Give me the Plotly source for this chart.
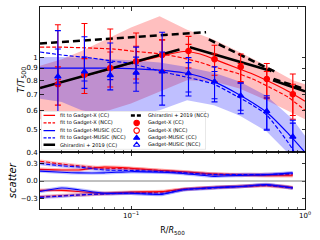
import plotly.graph_objects as go

# ---------------- data ----------------
r_bins = [0.038, 0.054, 0.076, 0.107, 0.151, 0.214, 0.302, 0.427, 0.603, 0.851]
gx_cc = [0.77, 0.845, 0.90, 0.96, 1.02, 1.06, 0.98, 0.91, 0.81, 0.70]
gx_cc_err = [0.14, 0.14, 0.15, 0.15, 0.16, 0.16, 0.14, 0.12, 0.13, 0.15]
gx_ncc = [1.085, 1.11, 1.10, 1.06, 1.03, 0.99, 0.91, 0.86, 0.77, 0.67]
gx_ncc_err = [0.28, 0.27, 0.21, 0.20, 0.15, 0.14, 0.12, 0.08, 0.10, 0.10]
gm_cc = [0.83, 0.87, 0.84, 0.86, 0.87, 0.855, 0.79, 0.69, 0.595, 0.465]
gm_cc_err = [0.25, 0.13, 0.11, 0.14, 0.18, 0.14, 0.12, 0.09, 0.095, 0.08]
gm_ncc = [1.03, 1.005, 0.975, 0.94, 0.95, 0.818, 0.76, 0.68, 0.585, 0.45]
gm_ncc_err = [0.26, 0.21, 0.17, 0.16, 0.32, 0.13, 0.11, 0.10, 0.09, 0.08]

band_r = [0.03, 0.04, 0.052, 0.075, 0.1, 0.146, 0.21, 0.3, 0.42, 0.6, 0.85, 1.0]
gx_band_hi = [0.92, 0.98, 1.06, 1.20, 1.33, 1.48, 1.30, 1.18, 1.05, 0.92, 0.80, 0.77]
gx_band_lo = [0.55, 0.56, 0.58, 0.60, 0.64, 0.72, 0.80, 0.79, 0.74, 0.66, 0.58, 0.55]
gm_band_hi = [1.0, 1.0, 0.99, 0.98, 0.97, 0.95, 0.91, 0.86, 0.79, 0.69, 0.55, 0.47]
gm_band_lo = [0.67, 0.65, 0.60, 0.57, 0.57, 0.60, 0.66, 0.63, 0.57, 0.49, 0.38, 0.33]

fit_r = [0.03, 0.04, 0.06, 0.08, 0.1, 0.15, 0.2, 0.25, 0.3, 0.4, 0.5, 0.6, 0.8, 1.0]
gx_cc_fit = [0.746, 0.787, 0.85, 0.898, 0.94, 1.01, 1.055, 1.03, 0.98, 0.905, 0.85, 0.80, 0.72, 0.655]
gx_ncc_fit = [1.10, 1.10, 1.09, 1.08, 1.06, 1.03, 0.99, 0.95, 0.91, 0.86, 0.81, 0.76, 0.68, 0.60]
gm_cc_fit = [0.90, 0.90, 0.90, 0.90, 0.895, 0.88, 0.86, 0.83, 0.79, 0.71, 0.645, 0.59, 0.48, 0.40]
gm_ncc_fit = [1.05, 1.02, 0.99, 0.96, 0.94, 0.87, 0.83, 0.80, 0.77, 0.69, 0.63, 0.575, 0.44, 0.34]

ghir_cc_r = [0.03, 0.19, None, 0.218, 0.64, None, 0.655, 1.0]
ghir_cc_t = [0.743, 1.075, None, 1.10, 0.875, None, 0.80, 0.72]
ghir_ncc_r = [0.03, 0.27, None, 0.28, 0.68, None, 0.66, 1.0]
ghir_ncc_t = [1.14, 1.27, None, 1.185, 0.865, None, 0.81, 0.735]

sc_r = [0.03, 0.04, 0.05, 0.07, 0.1, 0.15, 0.2, 0.3, 0.45, 0.6, 0.85]
gx_cc_up = [0.20, 0.19, 0.19, 0.24, 0.22, 0.18, 0.16, 0.12, 0.10, 0.09, 0.09]
gx_ncc_up = [0.34, 0.29, 0.26, 0.22, 0.21, 0.18, 0.15, 0.12, 0.11, 0.11, 0.11]
gm_cc_up = [0.17, 0.15, 0.14, 0.14, 0.16, 0.15, 0.13, 0.08, 0.10, 0.11, 0.14]
gm_ncc_up = [0.30, 0.26, 0.24, 0.19, 0.18, 0.16, 0.14, 0.11, 0.11, 0.11, 0.13]
gx_cc_dn = [-0.16, -0.16, -0.18, -0.21, -0.19, -0.18, -0.14, -0.11, -0.09, -0.07, -0.11]
gx_ncc_dn = [-0.27, -0.25, -0.24, -0.22, -0.20, -0.19, -0.14, -0.11, -0.09, -0.08, -0.12]
gm_cc_dn = [-0.18, -0.12, -0.15, -0.21, -0.21, -0.23, -0.15, -0.11, -0.09, -0.06, -0.12]
gm_ncc_dn = [-0.28, -0.26, -0.24, -0.22, -0.21, -0.22, -0.15, -0.12, -0.09, -0.07, -0.12]

y_ticks = [0.4, 0.5, 0.6, 0.7, 0.8, 0.9, 1.0]
y_ticktext = ["0.4", "0.5", "0.6", "0.7", "0.8", "0.9", "1"]
sc_ticks = [-0.3, 0.0, 0.3]
sc_ticktext = ["\u22120.3", "0.0", "0.3"]
x_ticks = [0.1, 1.0]
x_ticktext = ["10<sup>\u22121</sup>", "10<sup>0</sup>"]
x_minor = [0.03, 0.04, 0.05, 0.06, 0.07, 0.08, 0.09, 0.2, 0.3, 0.4, 0.5, 0.6, 0.7, 0.8, 0.9]

RED = "#ff0000"
BLUE = "#0000ff"
FONT = "DejaVu Sans"

fig = go.Figure()

# bands
for lo, hi, col in [(gx_band_lo, gx_band_hi, "rgba(255,0,0,0.25)"),
                    (gm_band_lo, gm_band_hi, "rgba(0,0,255,0.25)")]:
    fig.add_trace(go.Scatter(x=band_r, y=lo, mode="lines", line=dict(width=0),
                             showlegend=False, hoverinfo="skip"))
    fig.add_trace(go.Scatter(x=band_r, y=hi, mode="lines", line=dict(width=0),
                             fill="tonexty", fillcolor=col, showlegend=False, hoverinfo="skip"))

# fits
for yv, col, dash in [(gx_cc_fit, RED, "solid"), (gx_ncc_fit, RED, "4px,2px"),
                      (gm_cc_fit, BLUE, "solid"), (gm_ncc_fit, BLUE, "4px,2px")]:
    fig.add_trace(go.Scatter(x=fit_r, y=yv, mode="lines",
                             line=dict(color=col, width=1.2, dash=dash, shape="spline", smoothing=0.6),
                             showlegend=False))

# Ghirardini
fig.add_trace(go.Scatter(x=ghir_cc_r, y=ghir_cc_t, mode="lines",
                         line=dict(color="black", width=2.6), showlegend=False))
fig.add_trace(go.Scatter(x=ghir_ncc_r, y=ghir_ncc_t, mode="lines",
                         line=dict(color="black", width=2.6, dash="7px,4px"), showlegend=False))

# data points
def pts(yv, err, col, sym, fill):
    return go.Scatter(x=r_bins, y=yv, mode="markers",
                      error_y=dict(type="data", array=err, color=col, thickness=1.1, width=3),
                      marker=dict(symbol=sym, size=5.5, color=col if fill else "rgba(0,0,0,0)",
                                  line=dict(color=col, width=1.1)),
                      showlegend=False)

fig.add_trace(pts(gx_ncc, gx_ncc_err, RED, "circle-open", False))
fig.add_trace(pts(gx_cc, gx_cc_err, RED, "circle", True))
fig.add_trace(pts(gm_ncc, gm_ncc_err, BLUE, "triangle-up-open", False))
fig.add_trace(pts(gm_cc, gm_cc_err, BLUE, "triangle-up", True))

# bottom panel: scatter
for yv, col, dash in [(gx_cc_up, RED, "solid"), (gx_ncc_up, RED, "4px,2px"),
                      (gm_cc_up, BLUE, "solid"), (gm_ncc_up, BLUE, "4px,2px"),
                      (gx_cc_dn, RED, "solid"), (gx_ncc_dn, RED, "4px,2px"),
                      (gm_cc_dn, BLUE, "solid"), (gm_ncc_dn, BLUE, "4px,2px")]:
    halo = "rgba(255,0,0,0.25)" if col == RED else "rgba(0,0,255,0.25)"
    fig.add_trace(go.Scatter(x=sc_r, y=yv, mode="lines", xaxis="x2", yaxis="y2",
                             line=dict(color=halo, width=3.5, shape="spline", smoothing=0.6),
                             showlegend=False, hoverinfo="skip"))
    fig.add_trace(go.Scatter(x=sc_r, y=yv, mode="lines", xaxis="x2", yaxis="y2",
                             line=dict(color=col, width=1.1, dash=dash, shape="spline", smoothing=0.6),
                             showlegend=False))

# ---------------- legend (compact, drawn in its own small frame) ----------------
leg_rows = [0.885, 0.69, 0.49, 0.30, 0.12]
col1 = [("fit to Gadget-X (CC)", RED, "solid", 1.2),
        ("fit to Gadget-X (NCC)", RED, "3px,1.5px", 1.2),
        ("fit to Gadget-MUSIC (CC)", BLUE, "solid", 1.2),
        ("fit to Gadget-MUSIC (NCC)", BLUE, "3px,1.5px", 1.2),
        ("Ghirardini + 2019 (CC)", "black", "solid", 2.4)]
col2 = [("Ghirardini + 2019 (NCC)", None, None),
        ("Gadget-X (CC)", RED, "circle"),
        ("Gadget-X (NCC)", RED, "circle-open"),
        ("Gadget-MUSIC (CC)", BLUE, "triangle-up"),
        ("Gadget-MUSIC (NCC)", BLUE, "triangle-up-open")]

fig.add_trace(go.Scatter(x=[0, 1, 1, 0, 0], y=[0, 0, 1, 1, 0], mode="lines", fill="toself",
                         fillcolor="rgba(255,255,255,0.85)", line=dict(color="#cccccc", width=0.8),
                         xaxis="x3", yaxis="y3", showlegend=False, hoverinfo="skip"))
annotations = []
for (label, col, dash, w), yy in zip(col1, leg_rows):
    fig.add_trace(go.Scatter(x=[0.015, 0.085], y=[yy, yy], mode="lines",
                             line=dict(color=col, width=w, dash=dash),
                             xaxis="x3", yaxis="y3", showlegend=False, hoverinfo="skip"))
    annotations.append(dict(x=0.105, y=yy, xref="x3", yref="y3", text=label, showarrow=False,
                            xanchor="left", yanchor="middle", font=dict(size=5, family=FONT, color="black")))
for (label, col, sym), yy in zip(col2, leg_rows):
    if sym is None:
        fig.add_trace(go.Scatter(x=[0.545, 0.615], y=[yy, yy], mode="lines",
                                 line=dict(color="black", width=2.4, dash="4px,2px"),
                                 xaxis="x3", yaxis="y3", showlegend=False, hoverinfo="skip"))
    else:
        fig.add_trace(go.Scatter(x=[0.58], y=[yy], mode="markers",
                                 marker=dict(symbol=sym, size=5.5, color=col, line=dict(color=col, width=1.1)),
                                 xaxis="x3", yaxis="y3", showlegend=False, hoverinfo="skip"))
    annotations.append(dict(x=0.635, y=yy, xref="x3", yref="y3", text=label, showarrow=False,
                            xanchor="left", yanchor="middle", font=dict(size=5, family=FONT, color="black")))

fig.add_hline(y=0, line=dict(color="gray", width=1), xref="x2", yref="y2")

axis_common = dict(showline=True, linecolor="black", linewidth=0.9, mirror="ticks",
                   ticks="inside", tickcolor="black", ticklen=3.5, tickwidth=0.8,
                   showgrid=False, zeroline=False, automargin=False,
                   tickfont=dict(size=7, family=FONT, color="black"))

fig.update_layout(
    template="none",
    width=320, height=240,
    margin=dict(l=40, r=15, t=7, b=31, autoexpand=False),
    paper_bgcolor="white", plot_bgcolor="white",
    showlegend=False,
    font=dict(family=FONT, color="black"),
    annotations=annotations,
    xaxis=dict(type="log", range=[-1.523, 0.0], domain=[0, 1], anchor="y",
               tickvals=x_ticks, ticktext=x_ticktext, showticklabels=False,
               minor=dict(tickvals=x_minor, ticks="inside", ticklen=2, tickcolor="black", tickwidth=0.6),
               **axis_common),
    yaxis=dict(type="log", range=[-0.398, 0.209], domain=[0.28, 1], anchor="x",
               tickvals=y_ticks, ticktext=y_ticktext,
               title=dict(text="<i>T</i>/<i>T</i><sub>500</sub>", font=dict(size=9, family=FONT), standoff=0),
               **axis_common),
    xaxis2=dict(type="log", range=[-1.523, 0.0], domain=[0, 1], anchor="y2",
                tickvals=x_ticks, ticktext=x_ticktext,
                minor=dict(tickvals=x_minor, ticks="inside", ticklen=2, tickcolor="black", tickwidth=0.6),
                title=dict(text="R/<i>R</i><sub>500</sub>", font=dict(size=8, family=FONT), standoff=8),
                **axis_common),
    yaxis2=dict(range=[-0.48, 0.49], domain=[0, 0.28], anchor="x2",
                tickvals=sc_ticks, ticktext=sc_ticktext,
                title=dict(text="<i>scatter</i>", font=dict(size=10, family=FONT), standoff=2),
                **axis_common),
    xaxis3=dict(domain=[0.004, 0.626], range=[0, 1], anchor="y3", visible=False, fixedrange=True),
    yaxis3=dict(domain=[0.295, 0.485], range=[0, 1], anchor="x3", visible=False, fixedrange=True),
)

fig.write_html("out.html", config={"displayModeBar": False, "staticPlot": True},
               post_script="document.body.style.margin='0';")
